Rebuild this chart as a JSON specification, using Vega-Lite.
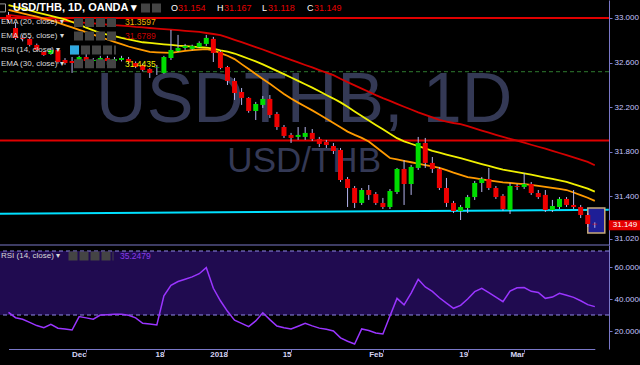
{
"$schema": "https://vega.github.io/schema/vega-lite/v6.json",
"background": "#000000",
"autosize": {"type": "none"},
"width": 609, "height": 349,
"padding": {"left": 0, "top": 0, "right": 31, "bottom": 16},
"config": {"view": {"stroke": null}, "text": {"font": "Liberation Sans"},
  "axis": {"labelFont": "Liberation Sans", "domainColor": "#7a78c8", "tickColor": "#7a78c8", "tickSize": 3, "labelColor": "#c4c4ff", "labelFontSize": 8, "labelPadding": 2, "grid": false}},
"datasets": {"bars": [
{"date":"2017-11-16","open":33.027,"high":33.054,"low":32.955,"close":32.982,"ema20":33.072,"ema30":33.115,"ema55":33.027,"rsi":31.6},
{"date":"2017-11-17","open":32.910,"high":32.955,"low":32.803,"close":32.821,"ema20":33.056,"ema30":33.099,"ema55":33.019,"rsi":28.3},
{"date":"2017-11-20","open":32.821,"high":32.850,"low":32.790,"close":32.812,"ema20":33.041,"ema30":33.083,"ema55":33.012,"rsi":27.3},
{"date":"2017-11-21","open":32.812,"high":32.830,"low":32.745,"close":32.758,"ema20":33.026,"ema30":33.067,"ema55":33.004,"rsi":25.4},
{"date":"2017-11-22","open":32.758,"high":32.770,"low":32.700,"close":32.713,"ema20":33.011,"ema30":33.051,"ema55":32.996,"rsi":23.4},
{"date":"2017-11-23","open":32.695,"high":32.700,"low":32.660,"close":32.668,"ema20":32.995,"ema30":33.035,"ema55":32.988,"rsi":22.0},
{"date":"2017-11-24","open":32.677,"high":32.730,"low":32.670,"close":32.713,"ema20":32.979,"ema30":33.019,"ema55":32.981,"rsi":24.1},
{"date":"2017-11-27","open":32.713,"high":32.720,"low":32.590,"close":32.605,"ema20":32.958,"ema30":33.003,"ema55":32.977,"rsi":21.7},
{"date":"2017-11-28","open":32.623,"high":32.640,"low":32.580,"close":32.596,"ema20":32.936,"ema30":32.987,"ema55":32.971,"rsi":21.2},
{"date":"2017-11-29","open":32.614,"high":32.650,"low":32.507,"close":32.596,"ema20":32.915,"ema30":32.964,"ema55":32.966,"rsi":20.6},
{"date":"2017-11-30","open":32.578,"high":32.660,"low":32.560,"close":32.650,"ema20":32.893,"ema30":32.939,"ema55":32.961,"rsi":29.0},
{"date":"2017-12-01","open":32.650,"high":32.713,"low":32.600,"close":32.614,"ema20":32.872,"ema30":32.914,"ema55":32.956,"rsi":28.2},
{"date":"2017-12-04","open":32.614,"high":32.640,"low":32.600,"close":32.623,"ema20":32.850,"ema30":32.889,"ema55":32.951,"rsi":27.4},
{"date":"2017-12-05","open":32.605,"high":32.660,"low":32.590,"close":32.641,"ema20":32.829,"ema30":32.865,"ema55":32.946,"rsi":30.0},
{"date":"2017-12-06","open":32.641,"high":32.660,"low":32.580,"close":32.614,"ema20":32.807,"ema30":32.850,"ema55":32.941,"rsi":30.2},
{"date":"2017-12-07","open":32.614,"high":32.650,"low":32.600,"close":32.632,"ema20":32.786,"ema30":32.836,"ema55":32.935,"rsi":30.4},
{"date":"2017-12-08","open":32.623,"high":32.660,"low":32.610,"close":32.641,"ema20":32.765,"ema30":32.821,"ema55":32.931,"rsi":30.5},
{"date":"2017-12-11","open":32.632,"high":32.650,"low":32.590,"close":32.605,"ema20":32.744,"ema30":32.808,"ema55":32.926,"rsi":29.8},
{"date":"2017-12-12","open":32.596,"high":32.610,"low":32.550,"close":32.560,"ema20":32.727,"ema30":32.794,"ema55":32.920,"rsi":28.2},
{"date":"2017-12-13","open":32.578,"high":32.590,"low":32.520,"close":32.534,"ema20":32.711,"ema30":32.782,"ema55":32.916,"rsi":24.8},
{"date":"2017-12-14","open":32.542,"high":32.550,"low":32.462,"close":32.507,"ema20":32.695,"ema30":32.776,"ema55":32.910,"rsi":24.3},
{"date":"2017-12-15","open":32.551,"high":32.578,"low":32.489,"close":32.556,"ema20":32.692,"ema30":32.770,"ema55":32.905,"rsi":23.8},
{"date":"2017-12-18","open":32.507,"high":32.660,"low":32.500,"close":32.650,"ema20":32.689,"ema30":32.764,"ema55":32.900,"rsi":42.0},
{"date":"2017-12-19","open":32.641,"high":32.892,"low":32.623,"close":32.713,"ema20":32.687,"ema30":32.759,"ema55":32.895,"rsi":48.5},
{"date":"2017-12-20","open":32.704,"high":32.848,"low":32.695,"close":32.731,"ema20":32.696,"ema30":32.752,"ema55":32.890,"rsi":50.9},
{"date":"2017-12-21","open":32.731,"high":32.767,"low":32.713,"close":32.749,"ema20":32.704,"ema30":32.747,"ema55":32.885,"rsi":52.3},
{"date":"2017-12-22","open":32.722,"high":32.760,"low":32.710,"close":32.749,"ema20":32.712,"ema30":32.743,"ema55":32.880,"rsi":53.8},
{"date":"2017-12-26","open":32.740,"high":32.790,"low":32.730,"close":32.776,"ema20":32.717,"ema30":32.738,"ema55":32.875,"rsi":55.8},
{"date":"2017-12-27","open":32.767,"high":32.848,"low":32.749,"close":32.821,"ema20":32.720,"ema30":32.734,"ema55":32.865,"rsi":59.6},
{"date":"2017-12-28","open":32.812,"high":32.830,"low":32.605,"close":32.686,"ema20":32.710,"ema30":32.725,"ema55":32.856,"rsi":46.7},
{"date":"2017-12-29","open":32.695,"high":32.710,"low":32.540,"close":32.551,"ema20":32.685,"ema30":32.710,"ema55":32.846,"rsi":38.9},
{"date":"2018-01-02","open":32.560,"high":32.570,"low":32.399,"close":32.435,"ema20":32.661,"ema30":32.697,"ema55":32.825,"rsi":32.3},
{"date":"2018-01-03","open":32.435,"high":32.462,"low":32.265,"close":32.327,"ema20":32.631,"ema30":32.681,"ema55":32.804,"rsi":26.8},
{"date":"2018-01-04","open":32.336,"high":32.372,"low":32.220,"close":32.283,"ema20":32.586,"ema30":32.657,"ema55":32.783,"rsi":24.8},
{"date":"2018-01-05","open":32.283,"high":32.290,"low":32.150,"close":32.166,"ema20":32.542,"ema30":32.634,"ema55":32.761,"rsi":22.7},
{"date":"2018-01-08","open":32.166,"high":32.247,"low":32.085,"close":32.229,"ema20":32.498,"ema30":32.611,"ema55":32.739,"rsi":26.3},
{"date":"2018-01-09","open":32.220,"high":32.300,"low":32.193,"close":32.274,"ema20":32.453,"ema30":32.584,"ema55":32.717,"rsi":31.4},
{"date":"2018-01-10","open":32.274,"high":32.309,"low":32.103,"close":32.130,"ema20":32.409,"ema30":32.555,"ema55":32.693,"rsi":27.1},
{"date":"2018-01-11","open":32.139,"high":32.157,"low":31.996,"close":32.022,"ema20":32.364,"ema30":32.526,"ema55":32.670,"rsi":23.1},
{"date":"2018-01-12","open":32.022,"high":32.040,"low":31.924,"close":31.942,"ema20":32.319,"ema30":32.496,"ema55":32.647,"rsi":22.0},
{"date":"2018-01-15","open":31.951,"high":31.969,"low":31.879,"close":31.924,"ema20":32.277,"ema30":32.466,"ema55":32.624,"rsi":21.3},
{"date":"2018-01-16","open":31.933,"high":32.022,"low":31.906,"close":31.951,"ema20":32.241,"ema30":32.436,"ema55":32.601,"rsi":23.0},
{"date":"2018-01-17","open":31.933,"high":32.022,"low":31.906,"close":31.969,"ema20":32.206,"ema30":32.405,"ema55":32.578,"rsi":24.8},
{"date":"2018-01-18","open":31.969,"high":32.004,"low":31.897,"close":31.915,"ema20":32.171,"ema30":32.375,"ema55":32.556,"rsi":23.2},
{"date":"2018-01-19","open":31.915,"high":31.933,"low":31.843,"close":31.870,"ema20":32.134,"ema30":32.343,"ema55":32.533,"rsi":21.8},
{"date":"2018-01-22","open":31.888,"high":31.906,"low":31.834,"close":31.861,"ema20":32.096,"ema30":32.309,"ema55":32.509,"rsi":21.1},
{"date":"2018-01-23","open":31.852,"high":31.879,"low":31.780,"close":31.807,"ema20":32.058,"ema30":32.277,"ema55":32.487,"rsi":20.0},
{"date":"2018-01-24","open":31.816,"high":31.834,"low":31.529,"close":31.547,"ema20":32.020,"ema30":32.243,"ema55":32.455,"rsi":15.7},
{"date":"2018-01-25","open":31.556,"high":31.574,"low":31.305,"close":31.475,"ema20":31.981,"ema30":32.203,"ema55":32.425,"rsi":13.6},
{"date":"2018-01-26","open":31.475,"high":31.493,"low":31.296,"close":31.341,"ema20":31.952,"ema30":32.162,"ema55":32.395,"rsi":11.9},
{"date":"2018-01-29","open":31.341,"high":31.475,"low":31.323,"close":31.457,"ema20":31.925,"ema30":32.121,"ema55":32.366,"rsi":21.3},
{"date":"2018-01-30","open":31.457,"high":31.502,"low":31.368,"close":31.413,"ema20":31.892,"ema30":32.081,"ema55":32.338,"rsi":20.3},
{"date":"2018-01-31","open":31.421,"high":31.439,"low":31.323,"close":31.341,"ema20":31.843,"ema30":32.041,"ema55":32.308,"rsi":18.7},
{"date":"2018-02-01","open":31.341,"high":31.386,"low":31.287,"close":31.305,"ema20":31.794,"ema30":32.002,"ema55":32.281,"rsi":18.1},
{"date":"2018-02-02","open":31.305,"high":31.466,"low":31.287,"close":31.448,"ema20":31.744,"ema30":31.961,"ema55":32.256,"rsi":29.4},
{"date":"2018-02-05","open":31.439,"high":31.655,"low":31.421,"close":31.646,"ema20":31.732,"ema30":31.922,"ema55":32.230,"rsi":40.4},
{"date":"2018-02-06","open":31.646,"high":31.726,"low":31.323,"close":31.511,"ema20":31.719,"ema30":31.893,"ema55":32.204,"rsi":36.3},
{"date":"2018-02-07","open":31.511,"high":31.682,"low":31.413,"close":31.664,"ema20":31.706,"ema30":31.872,"ema55":32.179,"rsi":43.7},
{"date":"2018-02-08","open":31.655,"high":31.933,"low":31.637,"close":31.879,"ema20":31.693,"ema30":31.851,"ema55":32.154,"rsi":52.3},
{"date":"2018-02-09","open":31.879,"high":31.924,"low":31.655,"close":31.700,"ema20":31.681,"ema30":31.830,"ema55":32.131,"rsi":47.5},
{"date":"2018-02-12","open":31.700,"high":31.753,"low":31.610,"close":31.646,"ema20":31.668,"ema30":31.809,"ema55":32.109,"rsi":44.8},
{"date":"2018-02-13","open":31.646,"high":31.664,"low":31.457,"close":31.475,"ema20":31.656,"ema30":31.792,"ema55":32.087,"rsi":40.8},
{"date":"2018-02-14","open":31.475,"high":31.565,"low":31.305,"close":31.341,"ema20":31.635,"ema30":31.775,"ema55":32.070,"rsi":37.4},
{"date":"2018-02-15","open":31.341,"high":31.359,"low":31.251,"close":31.269,"ema20":31.613,"ema30":31.758,"ema55":32.058,"rsi":34.2},
{"date":"2018-02-16","open":31.269,"high":31.323,"low":31.188,"close":31.305,"ema20":31.593,"ema30":31.742,"ema55":32.048,"rsi":36.0},
{"date":"2018-02-19","open":31.296,"high":31.413,"low":31.251,"close":31.394,"ema20":31.573,"ema30":31.725,"ema55":32.029,"rsi":40.0},
{"date":"2018-02-20","open":31.394,"high":31.538,"low":31.368,"close":31.520,"ema20":31.563,"ema30":31.707,"ema55":32.009,"rsi":44.6},
{"date":"2018-02-21","open":31.520,"high":31.574,"low":31.439,"close":31.556,"ema20":31.553,"ema30":31.690,"ema55":31.990,"rsi":46.7},
{"date":"2018-02-22","open":31.556,"high":31.655,"low":31.457,"close":31.475,"ema20":31.544,"ema30":31.673,"ema55":31.971,"rsi":44.0},
{"date":"2018-02-23","open":31.475,"high":31.493,"low":31.377,"close":31.394,"ema20":31.535,"ema30":31.656,"ema55":31.952,"rsi":41.2},
{"date":"2018-02-26","open":31.404,"high":31.421,"low":31.269,"close":31.287,"ema20":31.526,"ema30":31.640,"ema55":31.934,"rsi":38.3},
{"date":"2018-02-27","open":31.278,"high":31.520,"low":31.242,"close":31.493,"ema20":31.521,"ema30":31.629,"ema55":31.916,"rsi":45.0},
{"date":"2018-02-28","open":31.493,"high":31.511,"low":31.457,"close":31.484,"ema20":31.515,"ema30":31.618,"ema55":31.899,"rsi":47.0},
{"date":"2018-03-01","open":31.484,"high":31.610,"low":31.466,"close":31.511,"ema20":31.509,"ema30":31.606,"ema55":31.881,"rsi":47.2},
{"date":"2018-03-02","open":31.511,"high":31.529,"low":31.413,"close":31.430,"ema20":31.503,"ema30":31.595,"ema55":31.863,"rsi":44.8},
{"date":"2018-03-05","open":31.430,"high":31.457,"low":31.377,"close":31.394,"ema20":31.495,"ema30":31.582,"ema55":31.845,"rsi":44.1},
{"date":"2018-03-06","open":31.413,"high":31.457,"low":31.260,"close":31.278,"ema20":31.486,"ema30":31.569,"ema55":31.828,"rsi":40.4},
{"date":"2018-03-07","open":31.278,"high":31.368,"low":31.260,"close":31.314,"ema20":31.476,"ema30":31.556,"ema55":31.809,"rsi":41.2},
{"date":"2018-03-08","open":31.305,"high":31.394,"low":31.287,"close":31.377,"ema20":31.467,"ema30":31.543,"ema55":31.789,"rsi":43.6},
{"date":"2018-03-09","open":31.377,"high":31.394,"low":31.305,"close":31.323,"ema20":31.457,"ema30":31.530,"ema55":31.769,"rsi":42.3},
{"date":"2018-03-12","open":31.323,"high":31.457,"low":31.287,"close":31.305,"ema20":31.435,"ema30":31.509,"ema55":31.749,"rsi":41.0},
{"date":"2018-03-13","open":31.305,"high":31.323,"low":31.206,"close":31.233,"ema20":31.412,"ema30":31.490,"ema55":31.729,"rsi":38.9},
{"date":"2018-03-14","open":31.233,"high":31.251,"low":31.125,"close":31.152,"ema20":31.388,"ema30":31.469,"ema55":31.709,"rsi":36.5},
{"date":"2018-03-15","open":31.154,"high":31.167,"low":31.118,"close":31.149,"ema20":31.360,"ema30":31.443,"ema55":31.679,"rsi":35.25}
]},
"data": {"name": "bars"},
"resolve": {"scale": {"y": "independent"}, "axis": {"y": "independent"}},
"layer": [
{"layer": [
{"data": {"values": [{}]}, "mark": {"type": "text", "text": "USDTHB, 1D", "fontSize": 70, "color": "#343955", "align": "center", "baseline": "alphabetic", "dx": -1},
 "encoding": {"x": {"datum": "2018-01-17", "type": "ordinal"}, "y": {"datum": 32.063, "type": "quantitative"}}},
{"data": {"values": [{}]}, "mark": {"type": "text", "text": "USD/THB", "fontSize": 35, "color": "#343955", "align": "center", "baseline": "alphabetic", "dx": -1},
 "encoding": {"x": {"datum": "2018-01-17", "type": "ordinal"}, "y": {"datum": 31.619, "type": "quantitative"}}},
{"data": {"values": [{}]}, "mark": {"type": "rule", "color": "#e00000", "strokeWidth": 2}, "encoding": {"y": {"datum": 33.0, "type": "quantitative"}}},
{"data": {"values": [{}]}, "mark": {"type": "rule", "color": "#e00000", "strokeWidth": 2}, "encoding": {"y": {"datum": 31.9, "type": "quantitative"}}},
{"data": {"values": [{}]}, "mark": {"type": "rule", "color": "#2f7a2f", "strokeWidth": 1, "strokeDash": [4, 3]}, "encoding": {"y": {"datum": 32.518, "type": "quantitative"}}},
{"data": {"values": [{}]}, "mark": {"type": "rule", "color": "#00e0ff", "strokeWidth": 2, "xOffset": -8.5, "x2Offset": 14},
 "encoding": {"x": {"datum": "2017-11-16", "type": "ordinal"}, "x2": {"datum": "2018-03-15"}, "y": {"datum": 31.244, "type": "quantitative"}, "y2": {"datum": 31.28}}},
{"mark": {"type": "line", "color": "#d40000", "strokeWidth": 1.8}, "encoding": {"x": {"field": "date", "type": "ordinal", "title": null}, "y": {"field": "ema55", "type": "quantitative", "title": null}}},
{"mark": {"type": "line", "color": "#f0f000", "strokeWidth": 1.8}, "encoding": {"x": {"field": "date", "type": "ordinal", "title": null}, "y": {"field": "ema30", "type": "quantitative", "title": null}}},
{"mark": {"type": "line", "color": "#ff9a00", "strokeWidth": 1.8}, "encoding": {"x": {"field": "date", "type": "ordinal", "title": null}, "y": {"field": "ema20", "type": "quantitative", "title": null}}},
{"data": {"values": [{}]}, "mark": {"type": "rect", "fill": "#1e1e96", "stroke": "#c8aa7a", "strokeWidth": 1.5, "xOffset": -7, "x2Offset": 10},
 "encoding": {"x": {"datum": "2018-03-15", "type": "ordinal"}, "x2": {"datum": "2018-03-15"}, "y": {"datum": 31.296, "type": "quantitative"}, "y2": {"datum": 31.072}}},
{"mark": {"type": "rule", "color": "#b4b4ec", "strokeWidth": 1},
 "encoding": {
  "x": {"field": "date", "type": "ordinal", "title": null},
  "y": {"field": "low", "type": "quantitative", "title": null, "scale": {"domain": [30.964, 33.161], "range": [245, 0], "nice": false, "zero": false},
        "axis": {"orient": "right", "values": [31.02, 31.2, 31.4, 31.6, 31.8, 32.0, 32.2, 32.4, 32.6, 32.8, 33.0], "format": ".3f", "title": null, "labelOverlap": false, "labelFlush": false}},
  "y2": {"field": "high"}}},
{"mark": {"type": "bar", "size": 5},
 "encoding": {
  "x": {"field": "date", "type": "ordinal", "title": null},
  "y": {"field": "open", "type": "quantitative", "title": null},
  "y2": {"field": "close"},
  "color": {"condition": {"test": "datum.close >= datum.open", "value": "#00dd00"}, "value": "#ee0000"}}},
{"data": {"values": [{}]}, "mark": {"type": "rect", "fill": "#000000", "stroke": "#9a9a9a", "strokeWidth": 1, "xOffset": -9, "x2Offset": -3, "yOffset": -4, "y2Offset": 4},
 "encoding": {"x": {"datum": "2017-11-16", "type": "ordinal"}, "x2": {"datum": "2017-11-16"}, "y": {"datum": 33.09, "type": "quantitative"}, "y2": {"datum": 33.09}}},
{"data": {"values": [{}]}, "mark": {"type": "text", "text": "USD/THB, 1D, OANDA ▾", "fontSize": 11, "fontWeight": "bold", "color": "#ffffff", "align": "left", "baseline": "middle", "dx": 4.5},
 "encoding": {"x": {"datum": "2017-11-16", "type": "ordinal"}, "y": {"datum": 33.09, "type": "quantitative"}}},
{"data": {"values": [{}]}, "mark": {"type": "rule", "color": "#444444", "strokeWidth": 9, "strokeDash": [9, 2], "xOffset": 132.5, "x2Offset": 153.5},
 "encoding": {"x": {"datum": "2017-11-16", "type": "ordinal"}, "x2": {"datum": "2017-11-16"}, "y": {"datum": 33.09, "type": "quantitative"}}},
{"data": {"values": [{}]}, "mark": {"type": "text", "text": "O", "fontSize": 9, "color": "#ffffff", "align": "left", "baseline": "middle", "dx": 162.5},
 "encoding": {"x": {"datum": "2017-11-16", "type": "ordinal"}, "y": {"datum": 33.09, "type": "quantitative"}}},
{"data": {"values": [{}]}, "mark": {"type": "text", "text": "31.154", "fontSize": 9, "color": "#e80000", "align": "left", "baseline": "middle", "dx": 169.5},
 "encoding": {"x": {"datum": "2017-11-16", "type": "ordinal"}, "y": {"datum": 33.09, "type": "quantitative"}}},
{"data": {"values": [{}]}, "mark": {"type": "text", "text": "H", "fontSize": 9, "color": "#ffffff", "align": "left", "baseline": "middle", "dx": 208.5},
 "encoding": {"x": {"datum": "2017-11-16", "type": "ordinal"}, "y": {"datum": 33.09, "type": "quantitative"}}},
{"data": {"values": [{}]}, "mark": {"type": "text", "text": "31.167", "fontSize": 9, "color": "#e80000", "align": "left", "baseline": "middle", "dx": 215.5},
 "encoding": {"x": {"datum": "2017-11-16", "type": "ordinal"}, "y": {"datum": 33.09, "type": "quantitative"}}},
{"data": {"values": [{}]}, "mark": {"type": "text", "text": "L", "fontSize": 9, "color": "#ffffff", "align": "left", "baseline": "middle", "dx": 253.5},
 "encoding": {"x": {"datum": "2017-11-16", "type": "ordinal"}, "y": {"datum": 33.09, "type": "quantitative"}}},
{"data": {"values": [{}]}, "mark": {"type": "text", "text": "31.118", "fontSize": 9, "color": "#e80000", "align": "left", "baseline": "middle", "dx": 259.5},
 "encoding": {"x": {"datum": "2017-11-16", "type": "ordinal"}, "y": {"datum": 33.09, "type": "quantitative"}}},
{"data": {"values": [{}]}, "mark": {"type": "text", "text": "C", "fontSize": 9, "color": "#ffffff", "align": "left", "baseline": "middle", "dx": 298.5},
 "encoding": {"x": {"datum": "2017-11-16", "type": "ordinal"}, "y": {"datum": 33.09, "type": "quantitative"}}},
{"data": {"values": [{}]}, "mark": {"type": "text", "text": "31.149", "fontSize": 9, "color": "#e80000", "align": "left", "baseline": "middle", "dx": 305.5},
 "encoding": {"x": {"datum": "2017-11-16", "type": "ordinal"}, "y": {"datum": 33.09, "type": "quantitative"}}},
{"data": {"values": [{}]}, "mark": {"type": "text", "text": "EMA (20, close) ▾", "fontSize": 8, "color": "#d9d9d9", "align": "left", "baseline": "middle", "dx": -7.5},
 "encoding": {"x": {"datum": "2017-11-16", "type": "ordinal"}, "y": {"datum": 32.96, "type": "quantitative"}}},
{"data": {"values": [{}]}, "mark": {"type": "rule", "color": "#444444", "strokeWidth": 9, "strokeDash": [9, 2], "xOffset": 65.5, "x2Offset": 107.5},
 "encoding": {"x": {"datum": "2017-11-16", "type": "ordinal"}, "x2": {"datum": "2017-11-16"}, "y": {"datum": 32.96, "type": "quantitative"}}},
{"data": {"values": [{}]}, "mark": {"type": "text", "text": "31.3597", "fontSize": 8.5, "color": "#f0b400", "align": "left", "baseline": "middle", "dx": 116.5},
 "encoding": {"x": {"datum": "2017-11-16", "type": "ordinal"}, "y": {"datum": 32.96, "type": "quantitative"}}},
{"data": {"values": [{}]}, "mark": {"type": "text", "text": "EMA (55, close) ▾", "fontSize": 8, "color": "#d9d9d9", "align": "left", "baseline": "middle", "dx": -7.5},
 "encoding": {"x": {"datum": "2017-11-16", "type": "ordinal"}, "y": {"datum": 32.838, "type": "quantitative"}}},
{"data": {"values": [{}]}, "mark": {"type": "rule", "color": "#444444", "strokeWidth": 9, "strokeDash": [9, 2], "xOffset": 65.5, "x2Offset": 107.5},
 "encoding": {"x": {"datum": "2017-11-16", "type": "ordinal"}, "x2": {"datum": "2017-11-16"}, "y": {"datum": 32.838, "type": "quantitative"}}},
{"data": {"values": [{}]}, "mark": {"type": "text", "text": "31.6789", "fontSize": 8.5, "color": "#c80000", "align": "left", "baseline": "middle", "dx": 116.5},
 "encoding": {"x": {"datum": "2017-11-16", "type": "ordinal"}, "y": {"datum": 32.838, "type": "quantitative"}}},
{"data": {"values": [{}]}, "mark": {"type": "text", "text": "RSI (14, close) ▾", "fontSize": 8, "color": "#d9d9d9", "align": "left", "baseline": "middle", "dx": -7.5},
 "encoding": {"x": {"datum": "2017-11-16", "type": "ordinal"}, "y": {"datum": 32.713, "type": "quantitative"}}},
{"data": {"values": [{}]}, "mark": {"type": "rule", "color": "#444444", "strokeWidth": 9, "strokeDash": [9, 2], "xOffset": 61.5, "x2Offset": 107.5},
 "encoding": {"x": {"datum": "2017-11-16", "type": "ordinal"}, "x2": {"datum": "2017-11-16"}, "y": {"datum": 32.713, "type": "quantitative"}}},
{"data": {"values": [{}]}, "mark": {"type": "rule", "color": "#2fa8e0", "strokeWidth": 9, "xOffset": 61.5, "x2Offset": 70.5},
 "encoding": {"x": {"datum": "2017-11-16", "type": "ordinal"}, "x2": {"datum": "2017-11-16"}, "y": {"datum": 32.713, "type": "quantitative"}}},
{"data": {"values": [{}]}, "mark": {"type": "text", "text": "EMA (30, close) ▾", "fontSize": 8, "color": "#d9d9d9", "align": "left", "baseline": "middle", "dx": -7.5},
 "encoding": {"x": {"datum": "2017-11-16", "type": "ordinal"}, "y": {"datum": 32.589, "type": "quantitative"}}},
{"data": {"values": [{}]}, "mark": {"type": "rule", "color": "#444444", "strokeWidth": 9, "strokeDash": [9, 2], "xOffset": 65.5, "x2Offset": 107.5},
 "encoding": {"x": {"datum": "2017-11-16", "type": "ordinal"}, "x2": {"datum": "2017-11-16"}, "y": {"datum": 32.589, "type": "quantitative"}}},
{"data": {"values": [{}]}, "mark": {"type": "text", "text": "31.4435", "fontSize": 8.5, "color": "#f0f000", "align": "left", "baseline": "middle", "dx": 116.5},
 "encoding": {"x": {"datum": "2017-11-16", "type": "ordinal"}, "y": {"datum": 32.589, "type": "quantitative"}}},
{"data": {"values": [{}]}, "mark": {"type": "rect", "fill": "#e60000", "xOffset": 14, "x2Offset": 46, "yOffset": -4, "y2Offset": 6},
 "encoding": {"x": {"datum": "2018-03-15", "type": "ordinal"}, "x2": {"datum": "2018-03-15"}, "y": {"datum": 31.149, "type": "quantitative"}, "y2": {"datum": 31.149}}},
{"data": {"values": [{}]}, "mark": {"type": "text", "text": "31.149", "fontSize": 8, "color": "#ffffff", "align": "left", "baseline": "middle", "dx": 18, "dy": 1},
 "encoding": {"x": {"datum": "2018-03-15", "type": "ordinal"}, "y": {"datum": 31.149, "type": "quantitative"}}}
]},
{"layer": [
{"data": {"values": [{}]}, "mark": {"type": "rect", "fill": "#200b50"}, "encoding": {"y": {"datum": 30, "type": "quantitative"}, "y2": {"datum": 70}}},
{"data": {"values": [{}]}, "mark": {"type": "rule", "color": "#8f8ae6", "strokeWidth": 1.2, "strokeDash": [4, 3]}, "encoding": {"y": {"datum": 70, "type": "quantitative"}}},
{"data": {"values": [{}]}, "mark": {"type": "rule", "color": "#8f8ae6", "strokeWidth": 1.2, "strokeDash": [4, 3]}, "encoding": {"y": {"datum": 30, "type": "quantitative"}}},
{"data": {"values": [{}]}, "mark": {"type": "rule", "color": "#7a78c8", "strokeWidth": 1}, "encoding": {"y": {"datum": 73.75, "type": "quantitative"}}},
{"mark": {"type": "line", "color": "#9a35ff", "strokeWidth": 1.5},
 "encoding": {
  "x": {"field": "date", "type": "ordinal", "title": null, "scale": {"type": "point", "padding": 0, "range": [8.5, 594.8]},
        "axis": {"values": ["2017-12-01", "2017-12-18", "2018-01-02", "2018-01-15", "2018-02-01", "2018-02-19", "2018-03-01"],
                 "labelExpr": "datum.value == '2017-12-01' ? 'Dec' : datum.value == '2017-12-18' ? '18' : datum.value == '2018-01-02' ? '2018' : datum.value == '2018-01-15' ? '15' : datum.value == '2018-02-01' ? 'Feb' : datum.value == '2018-02-19' ? '19' : 'Mar'",
                 "labelAngle": 0, "labelColor": "#d4d4f4", "labelFontWeight": "bold", "title": null}},
  "y": {"field": "rsi", "type": "quantitative", "title": null, "scale": {"domain": [8.75, 73.75], "range": [349, 245], "nice": false, "zero": false},
        "axis": {"orient": "right", "values": [20, 40, 60], "format": ".4f", "title": null}}}},
{"data": {"values": [{}]}, "mark": {"type": "text", "text": "RSI (14, close) ▾", "fontSize": 8, "color": "#d9d9d9", "align": "left", "baseline": "middle", "dx": -7.5},
 "encoding": {"x": {"datum": "2017-11-16", "type": "ordinal"}, "y": {"datum": 66.9, "type": "quantitative"}}},
{"data": {"values": [{}]}, "mark": {"type": "rule", "color": "#444444", "strokeWidth": 9, "strokeDash": [9, 2], "xOffset": 60, "x2Offset": 105},
 "encoding": {"x": {"datum": "2017-11-16", "type": "ordinal"}, "x2": {"datum": "2017-11-16"}, "y": {"datum": 66.9, "type": "quantitative"}}},
{"data": {"values": [{}]}, "mark": {"type": "text", "text": "35.2479", "fontSize": 8.5, "color": "#8a3be8", "align": "left", "baseline": "middle", "dx": 111.5},
 "encoding": {"x": {"datum": "2017-11-16", "type": "ordinal"}, "y": {"datum": 66.9, "type": "quantitative"}}}
]}
]
}
